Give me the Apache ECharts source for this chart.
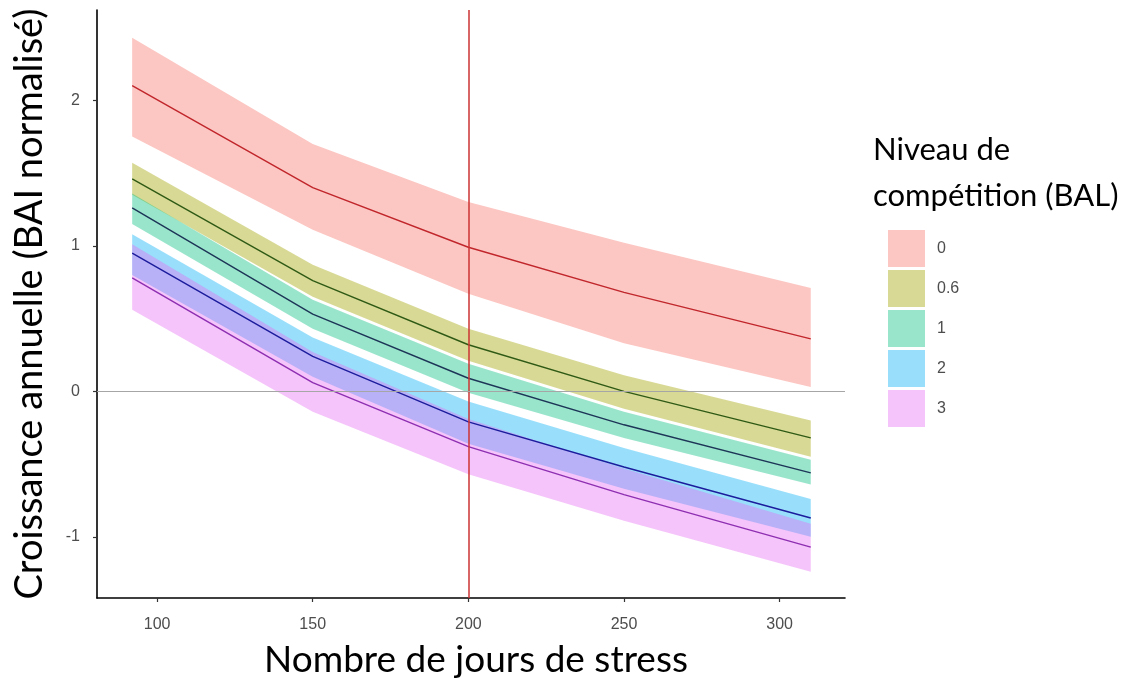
<!DOCTYPE html>
<html>
<head>
<meta charset="utf-8">
<script src="https://cdn.jsdelivr.net/npm/echarts@6/dist/echarts.min.js"></script>
<style>
html,body{margin:0;padding:0;background:#fff;}
#chart{width:1137px;height:689px;}
</style>
</head>
<body>
<div id="chart"></div>
<script>
// ---- data ----
const xDays = [92, 150, 200, 250, 310];
const levels = ['0', '0.6', '1', '2', '3'];

const fit0   = [2.10, 1.40, 0.99, 0.68, 0.36];
const up0    = [2.43, 1.70, 1.30, 1.02, 0.71];
const lo0    = [1.75, 1.11, 0.67, 0.33, 0.03];

const fit06  = [1.46, 0.76, 0.32, 0.00, -0.32];
const up06   = [1.57, 0.87, 0.43, 0.11, -0.20];
const lo06   = [1.35, 0.65, 0.21, -0.12, -0.45];

const fit1   = [1.26, 0.53, 0.09, -0.23, -0.56];
const up1    = [1.36, 0.63, 0.19, -0.14, -0.47];
const lo1    = [1.15, 0.43, -0.01, -0.32, -0.64];

const fit2   = [0.95, 0.24, -0.21, -0.52, -0.87];
const up2    = [1.08, 0.37, -0.07, -0.39, -0.74];
const lo2    = [0.80, 0.10, -0.36, -0.67, -1.00];

const fit3   = [0.78, 0.06, -0.38, -0.71, -1.07];
const up3    = [1.01, 0.27, -0.19, -0.53, -0.91];
const lo3    = [0.56, -0.14, -0.57, -0.89, -1.24];

const xTicks = [100, 150, 200, 250, 300];
const yTicks = [-1, 0, 1, 2];
const refX = 200;
const refY = 0;

// ---- styling ----
const fills = ['rgba(248,118,109,0.42)', 'rgba(163,165,0,0.42)', 'rgba(0,191,125,0.40)', 'rgba(0,176,246,0.40)', 'rgba(231,107,243,0.40)'];
const lineCols = ['#C0262B', '#2F5A16', '#1D3557', '#1C1C9C', '#8E2FB2'];

const fits = [fit0, fit06, fit1, fit2, fit3];
const ups = [up0, up06, up1, up2, up3];
const los = [lo0, lo06, lo1, lo2, lo3];

const pairs = (xs, ys) => xs.map((x, i) => [x, ys[i]]);

const series = [];
levels.forEach((lv, k) => {
  const upper = ups[k], lower = los[k];
  series.push({
    name: lv, type: 'custom', z: 2, silent: true,
    itemStyle: { color: fills[k] },
    data: xDays.map((x, i) => [x, lower[i], upper[i]]),
    encode: { x: 0, y: [1, 2] },
    renderItem: function (params, api) {
      if (params.dataIndex !== 0) return null;
      const pts = [];
      for (let i = 0; i < xDays.length; i++) pts.push(api.coord([xDays[i], upper[i]]));
      for (let i = xDays.length - 1; i >= 0; i--) pts.push(api.coord([xDays[i], lower[i]]));
      return {
        type: 'polygon',
        shape: { points: pts },
        style: { fill: fills[k], stroke: null }
      };
    }
  });
});
levels.forEach((lv, k) => {
  series.push({
    type: 'line', data: pairs(xDays, fits[k]), symbol: 'none', z: 4,
    lineStyle: { color: lineCols[k], width: 1.4 }, silent: true
  });
});
// reference lines
series.push({
  type: 'line', data: [], z: 1, silent: true,
  markLine: {
    silent: true, symbol: 'none', label: { show: false },
    data: [
      { xAxis: refX, lineStyle: { color: '#CC3333', width: 1.5, type: 'solid' } },
      { yAxis: refY, lineStyle: { color: '#A6A6A6', width: 1.2, type: 'solid' } }
    ]
  }
});

const chart = echarts.init(document.getElementById('chart'), null, { renderer: 'canvas' });
chart.setOption({
  animation: false,
  backgroundColor: '#ffffff',
  grid: { left: 97, right: 292, top: 10, bottom: 91, containLabel: false },
  xAxis: {
    type: 'value', min: 80.7, max: 321,
    name: 'Nombre de jours de stress', nameLocation: 'middle', nameGap: 44,
    nameTextStyle: { fontFamily: 'Lato', fontSize: 37, color: '#000', padding: [0, 0, 0, 10] },
    axisLine: { show: true, onZero: false, lineStyle: { color: '#000', width: 1.6 } },
    axisTick: { show: true, length: 4, lineStyle: { color: '#333', width: 1.2 }, customValues: xTicks },
    axisLabel: { fontFamily: 'Liberation Sans', fontSize: 16, color: '#4D4D4D', margin: 19, customValues: xTicks },
    splitLine: { show: false }
  },
  yAxis: {
    type: 'value', min: -1.42, max: 2.62,
    name: 'Croissance annuelle (BAI normalisé)', nameLocation: 'middle', nameGap: 48,
    nameTextStyle: { fontFamily: 'Lato', fontSize: 38, color: '#000' },
    axisLine: { show: true, onZero: false, lineStyle: { color: '#000', width: 1.6 } },
    axisTick: { show: true, length: 4, lineStyle: { color: '#333', width: 1.2 }, customValues: yTicks },
    axisLabel: { fontFamily: 'Liberation Sans', fontSize: 16, color: '#4D4D4D', margin: 17, customValues: yTicks },
    splitLine: { show: false }
  },
  title: {
    text: 'Niveau de\ncompétition (BAL)', left: 868, top: 122,
    textStyle: { fontFamily: 'Lato', fontSize: 31, fontWeight: 'normal', color: '#000', lineHeight: 46 }
  },
  legend: {
    orient: 'vertical', left: 883, top: 225,
    data: levels, icon: 'rect', itemWidth: 37, itemHeight: 37, itemGap: 3,
    selectedMode: false,
    textStyle: { fontFamily: 'Liberation Sans', fontSize: 16, color: '#4D4D4D', padding: [0, 0, 0, 7] }
  },
  series: series
});
</script>
</body>
</html>
